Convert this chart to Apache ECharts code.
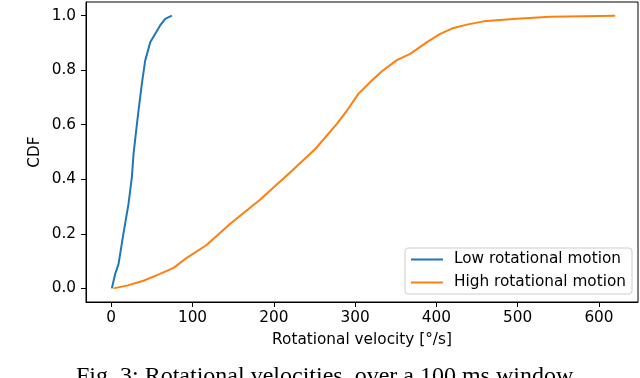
<!DOCTYPE html>
<html>
<head>
<meta charset="utf-8">
<script src="https://cdn.jsdelivr.net/npm/echarts@6/dist/echarts.min.js"></script>
<style>
  html, body { margin: 0; padding: 0; background: #fff; }
  #chart { width: 640px; height: 378px; }
</style>
</head>
<body>
<div id="chart"></div>
<script>
// CDF of rotational velocity
const lowX  = [0.8, 4.9, 9, 15, 21.3, 25.4, 27.4, 30.7, 33.6, 37.7, 41.8, 48, 54, 60, 66.4, 74.6];
const lowY  = [0, 0.053, 0.089, 0.2, 0.31, 0.407, 0.49, 0.578, 0.652, 0.75, 0.835, 0.902, 0.933, 0.963, 0.988, 1.0];
const highX = [2.9, 19.3, 39.7, 60, 76.7, 93, 117.7, 146, 183, 220, 251, 277.6, 290, 304, 320.6, 333, 351.4, 367.8, 388, 404.7, 421, 437.5, 458, 499, 540, 581, 620];
const highY = [0, 0.01, 0.028, 0.053, 0.075, 0.112, 0.16, 0.236, 0.325, 0.425, 0.511, 0.603, 0.652, 0.713, 0.762, 0.796, 0.837, 0.86, 0.902, 0.933, 0.955, 0.967, 0.979, 0.989, 0.996, 0.998, 1.0];
const seriesNames = ['Low rotational motion', 'High rotational motion'];
const xTicks = [0, 100, 200, 300, 400, 500, 600];
const yTicks = [0, 0.2, 0.4, 0.6, 0.8, 1.0];

const font = 'DejaVu Sans';
const fs = 15.3;
const zip = (xs, ys) => xs.map((x, i) => [x, ys[i]]);

const chart = echarts.init(document.getElementById('chart'));
const option = {
  animation: false,
  grid: {
    left: 86, right: 2, top: 2, bottom: 76,
    show: true, borderColor: '#000', borderWidth: 1, backgroundColor: 'transparent'
  },
  legend: {
    data: seriesNames,
    orient: 'vertical',
    right: 8,
    bottom: 84,
    icon: 'rect',
    itemWidth: 32,
    itemHeight: 2,
    itemGap: 8,
    padding: [4, 6, 4, 6],
    backgroundColor: 'rgba(255,255,255,0.8)',
    borderColor: '#cccccc',
    borderWidth: 1,
    borderRadius: 3,
    textStyle: { fontFamily: font, fontSize: fs, color: '#000', padding: [0, 0, 0, 6] }
  },
  xAxis: {
    type: 'value',
    min: -31, max: 648,
    name: 'Rotational velocity [°/s]',
    nameLocation: 'middle',
    nameGap: 31,
    nameTextStyle: { fontFamily: font, fontSize: fs, color: '#000' },
    axisLine: { show: true, onZero: false, lineStyle: { color: '#000', width: 1 } },
    axisTick: { show: true, inside: false, length: 5, customValues: xTicks, lineStyle: { color: '#000' } },
    axisLabel: { customValues: xTicks, margin: 9, fontFamily: font, fontSize: fs, color: '#000' },
    splitLine: { show: false }
  },
  yAxis: {
    type: 'value',
    min: -0.05, max: 1.05,
    name: 'CDF',
    nameLocation: 'middle',
    nameGap: 43,
    nameMoveOverlap: false,
    nameTextStyle: { fontFamily: font, fontSize: fs, color: '#000' },
    axisLine: { show: true, onZero: false, lineStyle: { color: '#000', width: 1 } },
    axisTick: { show: true, inside: false, length: 5, customValues: yTicks, lineStyle: { color: '#000' } },
    axisLabel: {
      customValues: yTicks, margin: 10, fontFamily: font, fontSize: fs, color: '#000',
      formatter: v => v.toFixed(1)
    },
    splitLine: { show: false }
  },
  series: [
    {
      name: seriesNames[0], type: 'line', data: zip(lowX, lowY),
      showSymbol: false, symbol: 'none', color: '#1f77b4',
      lineStyle: { width: 2 }
    },
    {
      name: seriesNames[1], type: 'line', data: zip(highX, highY),
      showSymbol: false, symbol: 'none', color: '#ff7f0e',
      lineStyle: { width: 2 }
    }
  ],
  graphic: [{
    type: 'text',
    left: 76,
    top: 365,
    style: {
      text: 'Fig. 3: Rotational velocities  over a 100 ms window',
      font: '24px "Liberation Serif"',
      fill: '#000'
    }
  }]
};
chart.setOption(option);
</script>
</body>
</html>
